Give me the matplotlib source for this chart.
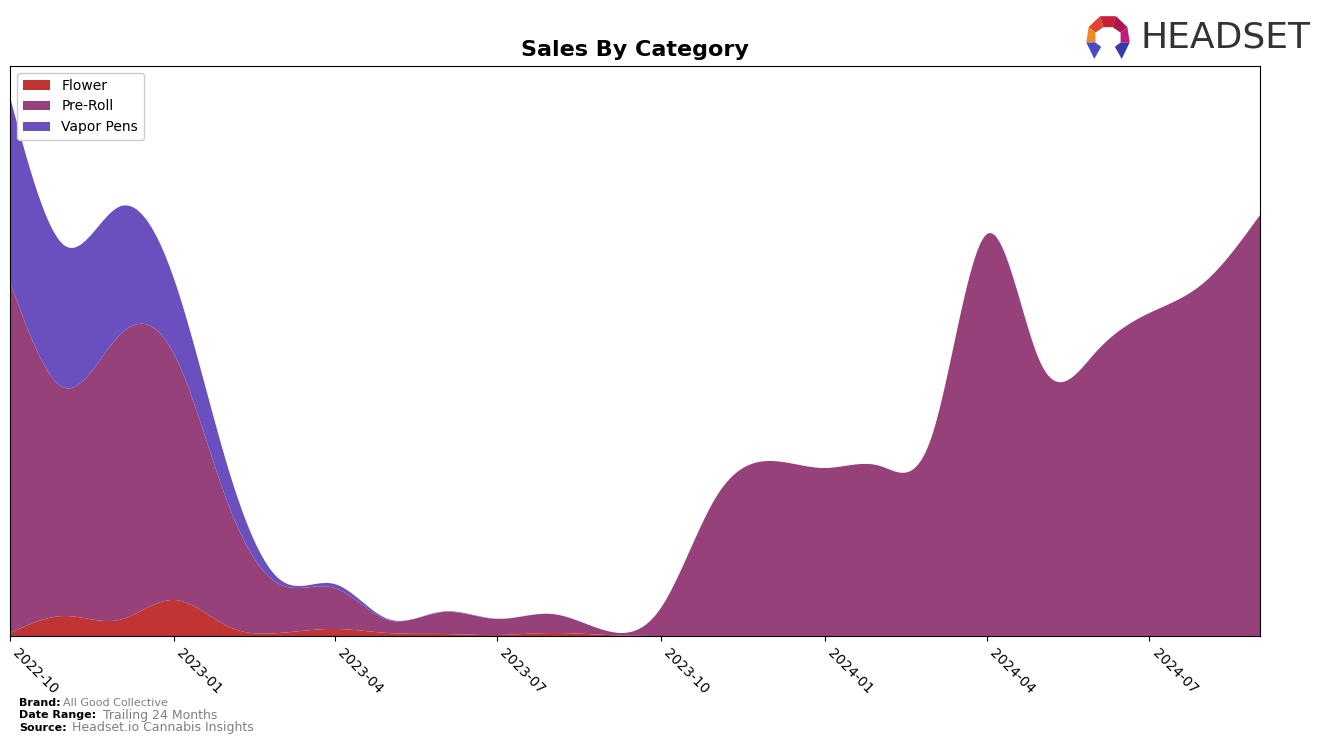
import numpy as np
import pandas as pd
import matplotlib
matplotlib.use("Agg")
import matplotlib.pyplot as plt
import matplotlib.dates as mdates
from matplotlib import font_manager
from matplotlib.patches import Polygon

# monthly sales (arbitrary units)
months = pd.date_range("2022-10-01", "2024-09-01", freq="MS")
flower = [3, 20, 16, 36, 9, 3, 7, 3, 2, 1, 3, 1,
          0, 0, 0, 0, 0, 0, 0, 0, 0, 0, 0, 0]
pre_roll = [351, 228, 284, 246, 120, 49, 41, 13, 22, 16, 19, 4,
            28, 139, 175, 168, 170, 200, 402, 273, 284, 323, 354, 421]
vapor_pens = [185, 142, 129, 75, 35, 5, 4, 1, 0.5, 0.3, 0, 0,
              0, 0, 0, 0, 0, 0, 0, 0, 0, 0, 0, 0]
labels = ["Flower", "Pre-Roll", "Vapor Pens"]
colors = ["#c13434", "#96417a", "#6a4fbf"]


def natural_spline(x, y, xs):
    """Natural cubic spline through (x, y), evaluated at xs."""
    x = np.asarray(x, float)
    y = np.asarray(y, float)
    n = len(x)
    h = np.diff(x)
    A = np.zeros((n, n))
    rhs = np.zeros(n)
    A[0, 0] = A[-1, -1] = 1
    for i in range(1, n - 1):
        A[i, i - 1] = h[i - 1]
        A[i, i] = 2 * (h[i - 1] + h[i])
        A[i, i + 1] = h[i]
        rhs[i] = 6 * ((y[i + 1] - y[i]) / h[i] - (y[i] - y[i - 1]) / h[i - 1])
    M = np.linalg.solve(A, rhs)
    idx = np.clip(np.searchsorted(x, xs) - 1, 0, n - 2)
    x0, x1 = x[idx], x[idx + 1]
    hh = x1 - x0
    out = (M[idx] * (x1 - xs) ** 3 / (6 * hh) + M[idx + 1] * (xs - x0) ** 3 / (6 * hh)
           + (y[idx] / hh - M[idx] * hh / 6) * (x1 - xs)
           + (y[idx + 1] / hh - M[idx + 1] * hh / 6) * (xs - x0))
    return np.clip(out, 0, None)


xnum = mdates.date2num(months)
xs = np.linspace(xnum[0], xnum[-1], 1500)
layers = [natural_spline(xnum, s, xs) for s in (flower, pre_roll, vapor_pens)]

fig = plt.figure(figsize=(13.24, 7.44), dpi=100)
ax = fig.add_axes([10 / 1324, 108 / 744, 1250 / 1324, 570 / 744])
ax.stackplot(xs, *layers, colors=colors, labels=labels, linewidth=0)

ax.set_xlim(xnum[0], xnum[-1])
ax.set_ylim(0, 570)
ax.set_yticks([])
ax.xaxis.set_major_locator(mdates.MonthLocator(bymonth=[1, 4, 7, 10]))
ax.xaxis.set_major_formatter(mdates.DateFormatter("%Y-%m"))
plt.setp(ax.get_xticklabels(), rotation=-45, ha="left", fontsize=10)
ax.set_title("Sales By Category", fontsize=16, fontweight="bold", pad=7)
ax.legend(loc="upper left", fontsize=10, framealpha=1, edgecolor="#cccccc")

# footer
fig.text(19 / 1324, 1 - 703 / 744, "Brand:", fontsize=8, fontweight="bold", va="center")
fig.text(63 / 1324, 1 - 703 / 744, "All Good Collective", fontsize=8, color="gray", va="center")
fig.text(19 / 1324, 1 - 715 / 744, "Date Range:", fontsize=8, fontweight="bold", va="center")
fig.text(103 / 1324, 1 - 715 / 744, "Trailing 24 Months", fontsize=9, color="gray", va="center")
fig.text(19 / 1324, 1 - 728 / 744, "Source:", fontsize=8, fontweight="bold", va="center")
fig.text(72 / 1324, 1 - 728 / 744, "Headset.io Cannabis Insights", fontsize=9, color="gray", va="center")

# logo
installed = {f.name for f in font_manager.fontManager.ttflist}
if "Liberation Sans Narrow" in installed:
    logo_font, logo_size = "Liberation Sans Narrow", 31
else:
    logo_font, logo_size = "DejaVu Sans", 26
fig.text(1140 / 1324, 1 - 38 / 744, "HEADSET", fontsize=logo_size, color="#333333",
         va="center", ha="left", family=logo_font)
lax = fig.add_axes([1084 / 1324, 1 - 60 / 744, 48 / 1324, 46 / 744])
lax.set_xlim(-1.05, 1.05)
lax.set_ylim(-1.05, 1.05)
lax.axis("off")
shapes = [
    ([(-0.85, 0.45), (-0.35, 0.95), (-0.2, 0.45), (-0.55, 0.2)], "#e0432e"),
    ([(-0.35, 0.95), (0.35, 0.95), (0.2, 0.45), (-0.2, 0.45)], "#c81e3c"),
    ([(0.35, 0.95), (0.85, 0.45), (0.55, 0.2), (0.2, 0.45)], "#a8184a"),
    ([(-0.85, 0.45), (-0.55, 0.2), (-0.55, -0.25), (-0.95, -0.25)], "#f08a24"),
    ([(0.85, 0.45), (0.95, -0.25), (0.55, -0.25), (0.55, 0.2)], "#c2197c"),
    ([(-0.95, -0.25), (-0.55, -0.25), (-0.3, -0.45), (-0.6, -1.0)], "#4a4ac8"),
    ([(0.95, -0.25), (0.55, -0.25), (0.3, -0.45), (0.6, -1.0)], "#3a3aa8"),
]
for pts, c in shapes:
    lax.add_patch(Polygon(pts, closed=True, facecolor=c, edgecolor="none"))

fig.savefig("out.png", dpi=100)
